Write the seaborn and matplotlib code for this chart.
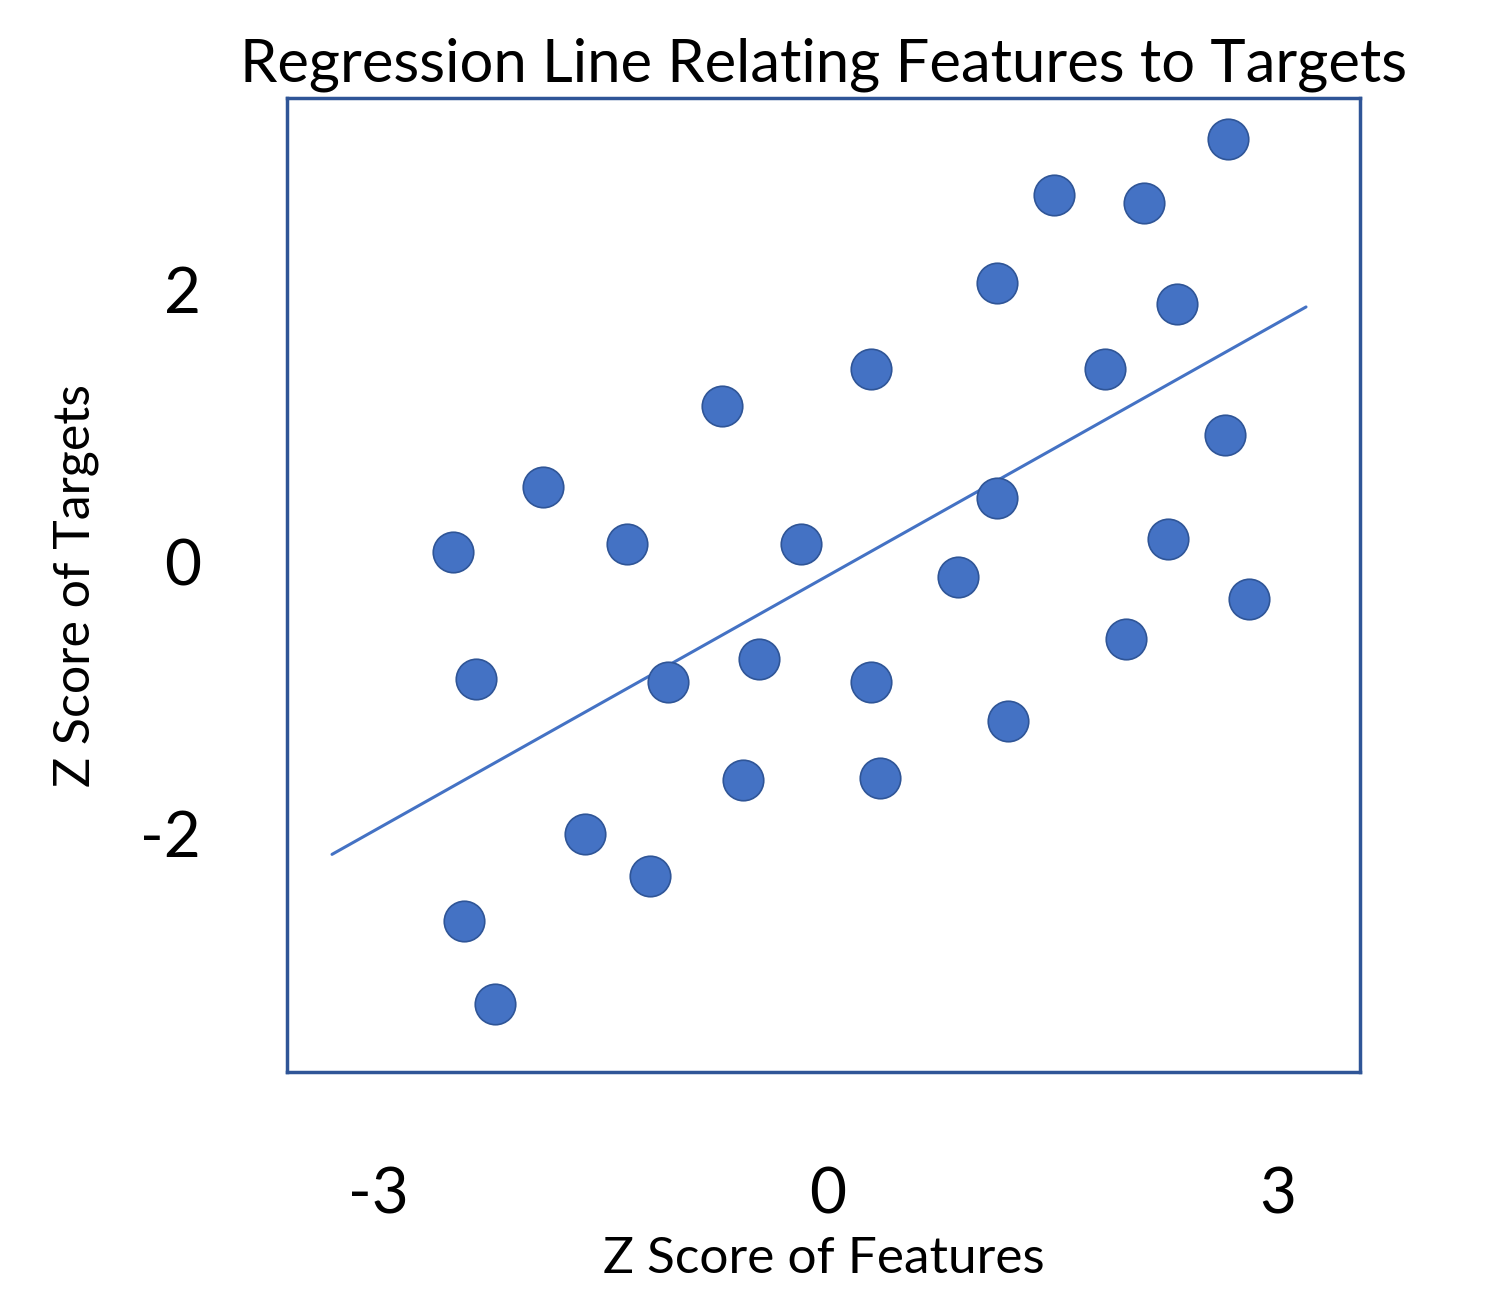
import matplotlib
matplotlib.use("Agg")
import matplotlib.pyplot as plt
import seaborn as sns
import pandas as pd

feature_z = [-2.50,-2.35,-1.90,-1.34,-0.71,-0.18,0.29,-1.07,-0.46,0.29,-0.57,0.35,-1.62,-1.19,-2.43,-2.22,
             1.13,1.51,2.11,2.67,2.33,1.85,2.65,1.13,0.87,2.27,2.81,1.99,1.20]
target_z = [0.07,-0.86,0.55,0.13,1.15,0.13,1.42,-0.88,-0.71,-0.88,-1.60,-1.59,-2.00,-2.31,-2.64,-3.25,
            2.05,2.70,2.64,3.11,1.90,1.42,0.93,0.47,-0.11,0.17,-0.27,-0.57,-1.17]
line_x = [-3.31, 3.19]
line_y = [-2.15, 1.875]
x_ticks = [-3, 0, 3]
y_ticks = [-2, 0, 2]

sns.set_style("white")
plt.rcParams['font.family'] = ['Lato', 'DejaVu Sans']
plt.rcParams['text.color'] = 'black'
plt.rcParams['axes.labelcolor'] = 'black'
plt.rcParams['xtick.color'] = 'black'
plt.rcParams['ytick.color'] = 'black'

df = pd.DataFrame({"x": feature_z, "y": target_z})
fig = plt.figure(figsize=(14.92, 12.92), dpi=100)
ax = fig.add_axes([0.1924, 0.1703, 0.7191, 0.7537])
blue = "#4472C4"
sns.lineplot(x=line_x, y=line_y, ax=ax, color=blue, linewidth=2.2)
sns.scatterplot(data=df, x="x", y="y", ax=ax, s=850, color=blue, edgecolor="#2F5597", linewidth=1.2, zorder=3)
ax.set_xlim(-3.61, 3.55)
ax.set_ylim(-3.75, 3.41)
for s in ax.spines.values():
    s.set_color("#2F5597"); s.set_linewidth(2.5)
ax.set_xticks(x_ticks); ax.set_xticklabels([str(v) for v in x_ticks])
ax.set_yticks(y_ticks); ax.set_yticklabels([str(v) for v in y_ticks])
ax.tick_params(axis='x', which='major', length=0, pad=68, labelsize=46, labelcolor='black')
ax.tick_params(axis='y', which='major', length=0, pad=62, labelsize=46, labelcolor='black')
ax.xaxis.remove_overlapping_locs = False
ax.yaxis.remove_overlapping_locs = False
ax.set_xticks([0], minor=True); ax.set_yticks([0], minor=True)
ax.tick_params(which='minor', axis='x', direction='inout', length=73, width=2.2, color=blue)
ax.tick_params(which='minor', axis='y', direction='inout', length=84, width=2.2, color=blue)
ax.set_xlabel("Z Score of Features", fontsize=37, labelpad=8)
ax.set_ylabel("Z Score of Targets", fontsize=36, labelpad=30)
ax.set_title("Regression Line Relating Features to Targets", fontsize=43, pad=12)
fig.savefig("out.png", dpi=100)
